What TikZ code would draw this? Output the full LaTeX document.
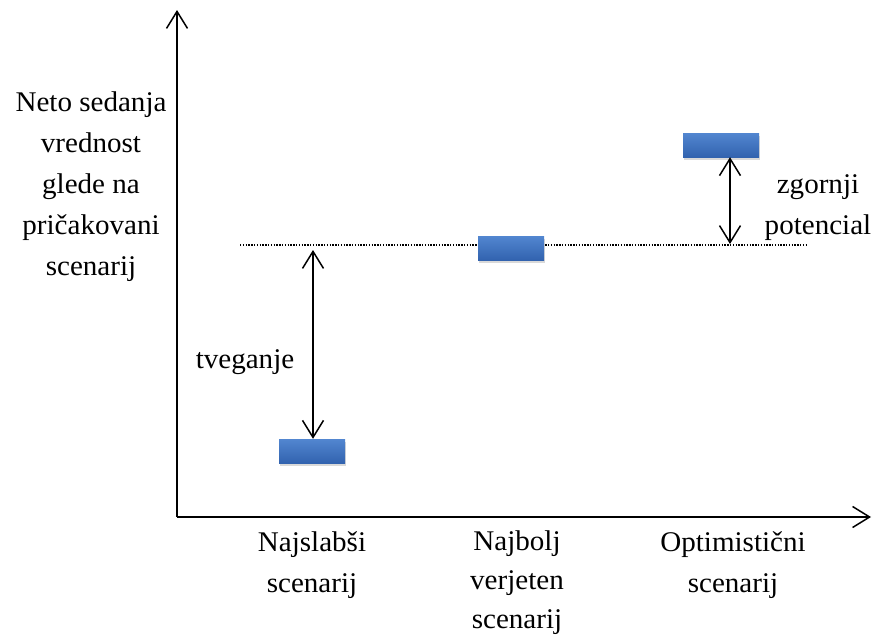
\documentclass[tikz,border=0pt]{standalone}
\usepackage{fontspec}
\setmainfont{Liberation Serif}
\usetikzlibrary{arrows.meta,shadows}
\definecolor{bartop}{RGB}{82,134,208}
\definecolor{barbot}{RGB}{50,99,175}
\tikzset{
  axisline/.style={line width=1.5pt,-{Straight Barb[length=17pt,width=21pt,line width=1.5pt]}},
  dblarrow/.style={line width=1.5pt,{Straight Barb[length=17pt,width=21pt,line width=1.5pt]}-{Straight Barb[length=17pt,width=21pt,line width=1.5pt]}},
  bar/.style={draw=none,top color=bartop,bottom color=barbot,inner sep=0pt,
    drop shadow={opacity=0.3,shadow xshift=1pt,shadow yshift=-3pt}},
  lbl/.style={align=center,inner sep=0pt,font=\fontsize{28.5}{41}\selectfont,xscale=1.02},
}
\begin{document}
\begin{tikzpicture}[x=1pt,y=-1pt]
\useasboundingbox (0,0) rectangle (872,637);
% axes
\coordinate (o) at (177,517);
\coordinate (ytip) at (177,10);
\coordinate (xtip) at (871,517);
\draw[axisline] (o) -- (ytip);
\draw[axisline] (o) -- (xtip);
% dotted baseline
\coordinate (d1) at (240,245);
\coordinate (d2) at (808,245);
\draw[line width=1.5pt,dash pattern=on 1.4pt off 1.4pt] (d1) -- (d2);
% bars
\node[bar,minimum width=66pt,minimum height=24pt] (b1) at (312,451) {};
\node[bar,minimum width=66pt,minimum height=24pt] (b2) at (511,248) {};
\node[bar,minimum width=76pt,minimum height=24pt] (b3) at (721,145) {};
% arrows
\coordinate (a1t) at (313,250);
\draw[dblarrow] (a1t) -- (b1.north -| a1t);
\coordinate (a2b) at (730,244);
\draw[dblarrow] (b3.south -| a2b) -- (a2b);
% labels
\node[lbl] (ylab) at (91,187) {Neto sedanja\\vrednost\\glede na\\pričakovani\\scenarij};
\node[lbl] (risk) at (245,362) {tveganje};
\node[lbl] (up) at (818,208) {zgornji\\potencial};
\node[lbl] (x1) at (312,565) {Najslabši\\scenarij};
\node[lbl,font=\fontsize{28.5}{39}\selectfont] (x2) at (517,583) {Najbolj\\verjeten\\scenarij};
\node[lbl] (x3) at (733,565) {Optimistični\\scenarij};
\end{tikzpicture}
\end{document}
